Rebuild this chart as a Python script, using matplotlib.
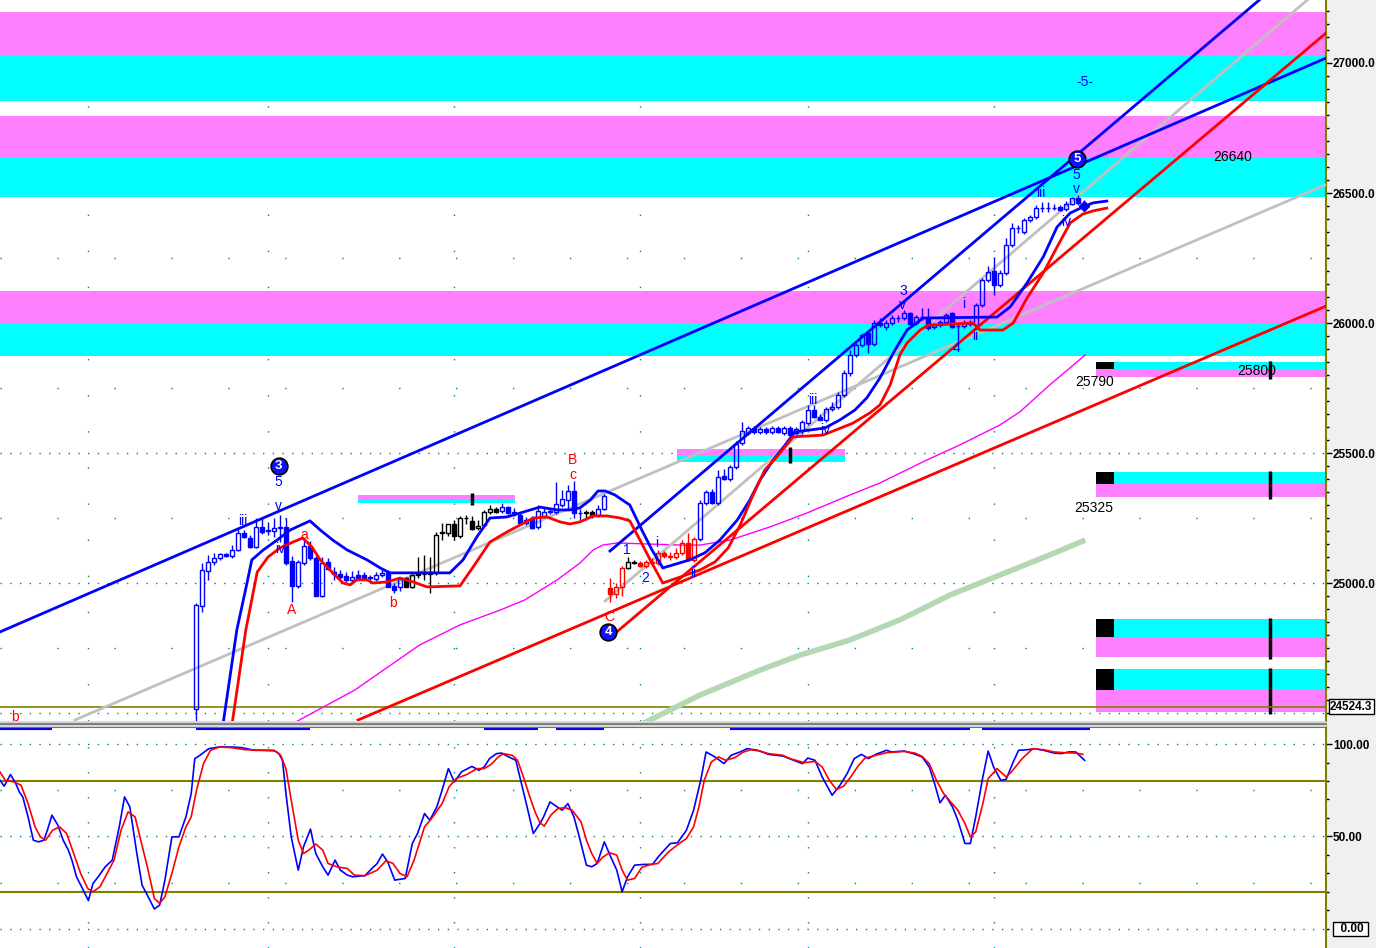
import matplotlib
matplotlib.use("Agg")
import matplotlib.pyplot as plt
import matplotlib.transforms as mtransforms
from matplotlib.patches import Rectangle

plt.rcParams['font.family'] = ['Liberation Sans', 'DejaVu Sans']

# ---------------- data ----------------
first_bar = 32
opens = [24515, 24912, 25046, 25081, 25096, 25112, 25104, 25127, 25192, 25173,
         25139, 25216, 25204, 25200, 25216, 25216, 25085, 24989, 25077, 25142,
         25096, 24950, 25081, 25042, 25035, 25027, 25012, 25031, 25031, 25023,
         25016, 25031, 25042, 24989, 24985, 25019, 24985, 25035, 25035, 25042,
         25039, 25192, 25192, 25227, 25181, 25250, 25239, 25212, 25223, 25273,
         25285, 25277, 25292, 25273, 25262, 25231, 25246, 25216, 25258, 25273,
         25273, 25300, 25319, 25354, 25269, 25269, 25273, 25262, 25285, 24981,
         24958, 24985, 25058, 25081, 25077, 25066, 25081, 25077, 25116, 25104,
         25100, 25116, 25154, 25089, 25169, 25308, 25350, 25308, 25412, 25400,
         25446, 25539, 25577, 25596, 25581, 25592, 25581, 25596, 25577, 25596,
         25577, 25585, 25615, 25665, 25639, 25627, 25669, 25677, 25723, 25808,
         25877, 25916, 25962, 25919, 26000, 25985, 26000, 26019, 26019, 26038,
         26000, 26023, 26019, 25985, 25992, 26004, 26038, 25989, 25989, 26004,
         25992, 26069, 26165, 26200, 26146, 26192, 26300, 26365, 26350, 26396,
         26408, 26442, 26442, 26442, 26446, 26438, 26458, 26481, 26450]
highs = [24923, 25077, 25108, 25116, 25116, 25116, 25146, 25212, 25204, 25185,
         25250, 25250, 25235, 25250, 25262, 25250, 25104, 25089, 25165, 25162,
         25104, 25100, 25096, 25062, 25050, 25042, 25046, 25050, 25042, 25031,
         25042, 25058, 25050, 25000, 25023, 25023, 25035, 25100, 25108, 25100,
         25196, 25231, 25227, 25242, 25258, 25262, 25258, 25242, 25281, 25300,
         25292, 25308, 25296, 25289, 25273, 25254, 25258, 25300, 25289, 25285,
         25389, 25358, 25377, 25392, 25285, 25281, 25281, 25300, 25342, 25019,
         25000, 25066, 25100, 25089, 25085, 25089, 25096, 25127, 25123, 25119,
         25135, 25165, 25192, 25177, 25319, 25358, 25362, 25435, 25439, 25454,
         25546, 25619, 25604, 25604, 25600, 25600, 25604, 25604, 25604, 25604,
         25600, 25627, 25685, 25685, 25650, 25677, 25696, 25735, 25819, 25896,
         25923, 25962, 25973, 26012, 26019, 26012, 26031, 26031, 26050, 26042,
         26031, 26058, 26058, 26000, 26012, 26038, 26042, 26000, 26012, 26012,
         26077, 26173, 26219, 26254, 26204, 26327, 26385, 26377, 26404, 26415,
         26454, 26465, 26465, 26458, 26454, 26469, 26485, 26492, 26473]
lows = [24435, 24889, 25012, 25069, 25089, 25100, 25096, 25123, 25173, 25135,
        25135, 25189, 25185, 25177, 25158, 25069, 24927, 24981, 25069, 25089,
        24950, 24946, 25050, 25012, 25012, 25004, 25004, 25012, 25012, 25012,
        25008, 25023, 24985, 24962, 24969, 24985, 24981, 25019, 25012, 24962,
        25031, 25165, 25181, 25165, 25173, 25227, 25204, 25204, 25216, 25265,
        25269, 25269, 25265, 25258, 25231, 25223, 25208, 25208, 25250, 25265,
        25265, 25292, 25281, 25250, 25235, 25242, 25250, 25254, 25281, 24927,
        24943, 24950, 25054, 25073, 25062, 25058, 25066, 25069, 25096, 25089,
        25092, 25108, 25085, 25081, 25162, 25300, 25304, 25300, 25396, 25392,
        25439, 25531, 25569, 25573, 25573, 25573, 25573, 25577, 25569, 25565,
        25569, 25573, 25608, 25635, 25627, 25619, 25662, 25669, 25716, 25796,
        25869, 25908, 25885, 25912, 25985, 25973, 25992, 26004, 26012, 25992,
        25992, 26012, 25973, 25977, 25985, 25996, 25981, 25908, 25981, 25989,
        25985, 26062, 26158, 26108, 26138, 26185, 26292, 26346, 26342, 26388,
        26400, 26427, 26427, 26435, 26431, 26431, 26454, 26454, 26435]
closes = [24915, 25050, 25081, 25096, 25112, 25104, 25127, 25192, 25177, 25139,
          25216, 25196, 25200, 25212, 25212, 25077, 24989, 25081, 25142, 25096,
          24950, 25077, 25054, 25035, 25023, 25012, 25023, 25019, 25019, 25019,
          25031, 25039, 24985, 24973, 25016, 24985, 25031, 25031, 25035, 25035,
          25185, 25196, 25227, 25181, 25250, 25250, 25208, 25219, 25273, 25285,
          25273, 25292, 25269, 25269, 25231, 25242, 25212, 25277, 25273, 25277,
          25304, 25323, 25354, 25269, 25269, 25273, 25258, 25285, 25335, 24958,
          24985, 25058, 25081, 25077, 25066, 25081, 25077, 25116, 25104, 25100,
          25116, 25154, 25092, 25169, 25308, 25350, 25308, 25408, 25400, 25446,
          25535, 25585, 25596, 25581, 25592, 25581, 25596, 25581, 25596, 25569,
          25592, 25619, 25665, 25639, 25627, 25669, 25677, 25723, 25808, 25877,
          25916, 25954, 25919, 26000, 25992, 26000, 26019, 26019, 26038, 25996,
          26023, 26023, 25981, 25992, 26004, 26031, 25985, 25989, 26000, 25996,
          26069, 26165, 26196, 26146, 26192, 26300, 26365, 26365, 26396, 26408,
          26442, 26442, 26442, 26442, 26435, 26458, 26481, 26462, 26450]
candle_colors = ("bbbbbbbbbbbbbbbbbbbbbbbbbbbbbbbbbbb" "kkkkkkkkkkkkkkkk"
                 "bbbbbbbbbbbbbb" "kk" "bb" "rrr" "kk" "rrrrrrrrrr"
                 "bbbbbbbbbbbbbbbbbbbbbbbbbbbbbbbbbbbbbbbbbbbbbbbbbbbbbbbbbbbbbbbbb")

# moving averages (bar, price)
blue_ma_x = [36.0, 38.8, 40.5, 41.3, 43.2, 45.5, 47.7, 51.0, 52.7, 54.8, 57.2, 60.5, 62.7, 64.3,
             68.2, 74.3, 76.5, 78.8, 81.0, 83.8, 86.0, 89.3, 92.2, 94.3, 96.0, 97.7, 99.0, 100.2,
             101.8, 104.3, 106.3, 108.0, 109.8, 114.3, 116.8, 119.3, 122.2, 124.3, 126.0, 128.2,
             130.2, 131.8, 136.8, 139.3, 141.8, 143.8, 146.0, 148.5, 150.5, 153.2, 165.5, 167.7,
             170.5, 173.2, 175.5, 177.7, 179.8, 181.5, 183.8]
blue_ma_y = [24377, 24819, 25000, 25089, 25127, 25165, 25204, 25239, 25204, 25165, 25127, 25089,
             25058, 25039, 25039, 25039, 25089, 25177, 25250, 25254, 25269, 25292, 25281, 25281,
             25289, 25319, 25354, 25354, 25339, 25300, 25204, 25127, 25058, 25089, 25116, 25165,
             25242, 25319, 25396, 25473, 25531, 25581, 25596, 25627, 25665, 25712, 25789, 25896,
             25973, 26019, 26023, 26062, 26154, 26254, 26369, 26423, 26446, 26462, 26469]
red_ma_x = [37.5, 40.3, 42.2, 44.0, 46.0, 48.2, 49.8, 51.3, 52.7, 54.8, 56.5, 57.7, 58.8, 60.5,
            61.5, 63.8, 66.0, 68.2, 70.5, 76.0, 78.2, 81.0, 83.8, 86.0, 88.2, 90.5, 92.7, 94.3,
            96.0, 98.2, 100.5, 102.7, 104.3, 106.0, 107.7, 109.8, 112.7, 116.0, 118.5, 120.7,
            122.7, 124.7, 126.8, 128.8, 131.5, 136.5, 141.5, 144.3, 146.0, 147.7, 149.3, 150.5,
            152.7, 154.0, 161.5, 162.7, 166.5, 168.2, 170.5, 173.2, 175.5, 177.7, 179.8, 181.5,
            183.8]
red_ma_y = [24377, 24819, 25042, 25100, 25135, 25158, 25173, 25139, 25089, 25039, 25000, 24993,
            25012, 25012, 25000, 25004, 25019, 25004, 24985, 24989, 25062, 25158, 25196, 25223,
            25250, 25254, 25235, 25227, 25235, 25258, 25258, 25250, 25239, 25165, 25089, 25000,
            25023, 25050, 25081, 25135, 25223, 25331, 25435, 25485, 25562, 25569, 25615, 25654,
            25685, 25762, 25877, 25923, 25973, 25992, 26000, 25973, 25973, 26000, 26096, 26192,
            26292, 26385, 26419, 26431, 26442]
magenta_x = [47.7, 58.5, 69.3, 76.0, 82.7, 86.8, 92.2, 96.0, 98.2, 99.8, 102.2, 112.7, 116.0,
             121.0, 127.7, 133.8, 140.2, 146.0, 153.8, 159.3, 166.0, 169.3, 174.3, 180.2]
magenta_y = [24454, 24589, 24762, 24839, 24896, 24935, 25012, 25077, 25127, 25146, 25154, 25146,
             25146, 25165, 25216, 25269, 25331, 25385, 25473, 25531, 25608, 25658, 25762, 25877]
green_x = [106.0, 116.0, 126.0, 132.7, 141.0, 149.3, 157.7, 166.0, 174.3, 180.2]
green_y = [24454, 24569, 24665, 24723, 24781, 24858, 24954, 25031, 25108, 25165]

# trend lines: (x0, y0, x1, y1, color)
trend_lines = [(-0.67, 24812, 220.33, 27019, '#0000ff'),
               (101.0, 25123, 209.2, 27242, '#0000ff'),
               (59.0, 24473, 220.33, 26065, '#ff0000'),
               (101.3, 24796, 220.33, 27115, '#ff0000'),
               (11.8, 24473, 220.2, 26531, '#c0c0c0'),
               (100.2, 24931, 217.2, 27242, '#c0c0c0')]

# horizontal zones (top, mid, bottom): magenta on top, cyan below
band_top = [27195, 26795, 26125]
band_mid = [27025, 26640, 26000]
band_bot = [26855, 26485, 25875]

# small zones on the right: (cyan top, split, magenta bottom)
rbox_top = [25850, 25427, 24862, 24669]
rbox_mid = [25823, 25381, 24792, 24589]
rbox_bot = [25792, 25331, 24715, 24504]
rbox_x0, rbox_x1, rbox_black_x1, rbox_marker_x = 182.0, 220.33, 185.0, 211.0

# mid zones: (x0, x1, magenta top, split, cyan bottom, marker x, marker lo, marker hi)
mbox = [(59.0, 85.2, 25339, 25323, 25306, 78.0, 25300, 25346),
        (112.2, 140.2, 25515, 25488, 25465, 131.0, 25462, 25523)]

last_price = 24524.3

wave_labels = [("5", 45.8, 25389, '#0000ff'), ("v", 45.8, 25295, '#0000ff'),
               ("iii", 39.8, 25239, '#0000ff'), ("iv", 46.0, 25131, '#0000ff'),
               ("A", 48.0, 24896, '#ff0000'), ("a", 50.0, 25185, '#ff0000'),
               ("b", 64.8, 24923, '#ff0000'), ("B", 94.8, 25473, '#ff0000'),
               ("c", 94.8, 25415, '#ff0000'), ("1", 103.8, 25127, '#0000ff'),
               ("2", 106.8, 25019, '#0000ff'), ("C", 100.8, 24869, '#ff0000'),
               ("i", 108.8, 25154, '#0000ff'), ("ii", 114.8, 25039, '#0000ff'),
               ("iii", 134.8, 25704, '#0000ff'), ("iv", 136.8, 25589, '#0000ff'),
               ("3", 149.8, 26123, '#0000ff'), ("v", 149.8, 26069, '#0000ff'),
               ("i", 160.0, 26073, '#0000ff'), ("ii", 161.8, 25950, '#0000ff'),
               ("4", 158.8, 25904, '#0000ff'), ("iii", 172.8, 26500, '#0000ff'),
               ("iv", 177.0, 26389, '#0000ff'), ("5", 178.7, 26569, '#0000ff'),
               ("v", 178.8, 26515, '#0000ff'), ("-5-", 180.2, 26927, '#0000ff'),
               ("b", 1.8, 24485, '#ff0000')]
circles = [("3", 45.8, 25450), ("4", 100.7, 24812), ("5", 178.8, 26631)]
price_labels = [("26640", 204.7, 26638), ("25790", 181.8, 25773),
                ("25800", 208.7, 25815), ("25325", 181.7, 25289)]

# stochastic
stoch_k_x = [-0.67, 0.03, 1.08, 1.96, 2.55, 3.13, 4.01, 4.89, 5.76, 6.64, 7.23, 7.99, 8.98, 9.86,
             10.73, 11.32, 12.08, 13.07, 14.07, 14.83, 15.70, 16.87, 18.04, 19.21, 20.09, 20.97,
             22.14, 23.01, 23.89, 25.06, 25.94, 26.82, 27.98, 29.15, 30.32, 31.20, 31.79, 32.66,
             34.13, 35.88, 37.93, 39.68, 41.73, 44.94, 45.82, 46.41, 46.99, 47.87, 49.04, 49.92,
             51.08, 51.96, 53.13, 54.01, 55.18, 56.06, 57.22, 58.10, 60.15, 61.32, 62.20, 63.07,
             63.95, 65.12, 66.87, 68.05, 68.92, 70.09, 70.97, 72.14, 73.01, 74.07, 75.06, 76.23,
             77.98, 79.16, 80.03, 80.91, 82.08, 82.96, 84.12, 85.30, 86.17, 87.05, 88.22,
             89.33, 89.93, 91.0, 92.01, 93.02, 93.98, 94.99, 95.88, 97.07, 97.96, 98.86, 100.05,
             101.12, 102.13, 103.02, 103.92, 105.11, 106.6, 108.08, 109.27, 111.06, 112.25, 113.74,
             114.93, 116.12, 117.01, 118.5, 119.99, 121.18, 122.67, 123.85, 125.64, 127.43, 129.81,
             131.6, 133.08, 133.97, 135.17, 136.36, 138.02, 139.33, 140.52, 141.71, 142.9, 144.1,
             145.29, 147.07, 147.96, 150.05, 151.53, 153.02, 154.21, 155.1, 156.0, 156.89, 158.08,
             158.97, 160.16, 161.06, 161.95, 163.14, 164.03, 164.93, 166.12, 167.01, 168.2, 169.1,
             170.58, 171.77, 173.26, 175.04, 176.24, 177.43, 178.62, 179.21, 180.1]
stoch_k = [80.4, 77.2, 83.5, 78.6, 74.1, 71.4, 60.6, 48.0, 47.1, 48.0, 53.4, 61.5, 56.1, 48.0,
           42.6, 37.2, 28.2, 21.9, 15.3, 24.6, 28.2, 33.6, 37.2, 55.2, 71.4, 66.0, 40.8, 23.7,
           18.3, 10.8, 12.9, 26.4, 49.8, 49.8, 60.6, 73.2, 92.1, 93.9, 97.5, 98.4, 98.4, 98.0,
           96.6, 96.6, 94.8, 91.2, 73.2, 49.8, 31.8, 44.4, 54.0, 40.8, 33.6, 29.1, 37.2, 31.8,
           29.1, 28.2, 28.8, 32.7, 35.4, 40.5, 36.3, 26.4, 27.3, 46.2, 51.6, 62.4, 58.8, 66.0,
           75.0, 86.7, 79.5, 84.9, 87.9, 85.8, 87.6, 92.1, 94.8, 95.1, 93.0, 91.2, 79.5, 67.8, 51.6,
           57.0, 60.6, 68.7, 66.4, 64.2, 67.8, 60.6, 49.8, 34.5, 33.6, 35.4, 47.1, 39.0, 31.8,
           20.1, 28.2, 34.5, 34.9, 34.9, 39.9, 46.2, 46.6, 53.4, 64.2, 80.4, 95.7, 93.0, 89.4,
           93.9, 95.7, 97.5, 96.6, 94.4, 93.5, 91.2, 89.4, 92.4, 91.2, 82.2, 72.3, 77.7, 84.0,
           92.1, 94.4, 92.1, 94.4, 96.6, 95.7, 96.2, 94.8, 93.0, 87.6, 78.6, 68.2, 72.3, 66.0,
           58.8, 46.2, 46.2, 60.6, 82.2, 96.2, 87.6, 80.4, 80.8, 90.3, 96.6, 96.9, 97.5, 96.6,
           95.1, 94.8, 95.7, 95.7, 93.9, 91.2]
stoch_d_x = [-0.67, 0.21, 1.67, 2.84, 4.01, 5.18, 6.06, 6.93, 8.10, 9.27, 10.44, 11.61, 12.78,
             13.95, 14.83, 16.0, 17.17, 18.34, 19.51, 20.68, 21.85, 22.72, 23.89, 25.06, 25.94,
             26.82, 27.98, 29.15, 30.32, 31.20, 32.08, 33.25, 34.42, 35.88, 37.93, 40.27, 43.19,
             45.24, 46.11, 46.99, 47.87, 49.04, 49.92, 50.79, 51.96, 53.13, 54.01, 55.47, 57.22,
             58.39, 60.15, 62.20, 63.66, 64.83, 66.0, 67.17, 68.34, 70.09, 71.26, 73.01, 74.18,
             75.35, 77.11, 78.86, 80.03, 81.2, 82.37, 83.25, 84.71, 85.59, 86.76, 87.63, 88.51,
             89.33, 90.04, 91.12, 92.31, 93.5, 94.69, 96.18, 97.07, 97.96, 98.86, 99.75, 100.94,
             102.13, 103.02, 103.92, 105.11, 106.3, 107.79, 108.97, 110.76, 112.54, 113.74, 114.93,
             115.82, 116.71, 117.9, 119.09, 120.28, 121.77, 123.26, 124.45, 125.94, 127.43, 129.81,
             131.0, 133.38, 135.17, 136.36, 137.55, 138.74, 139.93, 141.12, 142.31, 143.5, 145.29,
             147.07, 150.05, 151.83, 153.02, 154.21, 155.4, 156.6, 157.79, 158.97, 160.16, 161.06,
             161.95, 163.14, 164.03, 165.52, 167.01, 167.9, 169.69, 171.47, 173.26, 175.04, 176.83,
             178.62, 179.81]
stoch_d = [84.9, 80.4, 79.5, 77.7, 67.8, 55.2, 49.8, 48.0, 53.4, 55.2, 51.6, 40.8, 30.0, 21.9,
           20.1, 22.8, 30.0, 37.2, 53.4, 63.3, 60.6, 48.9, 33.6, 16.5, 13.8, 17.4, 30.0, 44.4,
           55.2, 60.6, 75.0, 89.4, 96.6, 98.4, 98.0, 96.9, 96.6, 96.2, 93.9, 86.7, 69.6, 48.0,
           40.8, 42.6, 45.9, 42.6, 35.4, 33.6, 32.7, 29.1, 28.8, 31.8, 36.9, 35.4, 30.0, 28.2,
           37.2, 55.2, 59.7, 67.8, 76.8, 81.3, 83.5, 86.7, 86.7, 89.0, 93.0, 94.8, 93.9, 91.2,
           80.4, 71.4, 63.3,
           57.4, 55.6, 61.5, 65.1, 65.6, 64.2, 57.9, 48.0, 40.8, 35.4, 38.7, 41.2, 39.9, 31.8,
           26.4, 27.3, 33.3, 34.9, 35.4, 41.7, 46.2, 48.9, 55.2, 66.0, 80.4, 90.3, 93.0, 91.2,
           92.6, 95.7, 96.9, 96.2, 94.8, 93.9, 92.1, 89.9, 90.6, 87.6, 80.4, 75.4, 77.2, 82.2,
           87.9, 92.4, 93.9, 95.3, 96.0, 95.1, 93.3, 89.4, 80.4, 73.2, 68.7, 64.2, 57.0, 49.8,
           52.5, 67.8, 81.3, 86.7, 82.2, 84.9, 92.1, 97.5, 96.9, 95.7, 95.3, 95.1, 94.4]
signal_x0 = [-0.67, 32, 80, 92, 121, 163]
signal_x1 = [8, 51, 89, 100, 161, 181]
grid_bars = [14, 44, 75, 106, 134, 165]

# ---------------- figure ----------------
W, H = 1376, 948
fig = plt.figure(figsize=(W / 100, H / 100), dpi=100, facecolor='#f0f0f0')
ax = fig.add_axes([0, 1 - 721 / H, 1326 / W, 721 / H], facecolor='white')
ax2 = fig.add_axes([0, 0, 1326 / W, 221 / H], facecolor='white')

XL = (-0.667, 220.333)
ax.set_xlim(*XL)
ax.set_ylim(24469.3, 27242.3)
ax2.set_xlim(*XL)
ax2.set_ylim(-10.3, 109.2)

teal = '#008080'
olive = '#808000'

# grid
for g in range(24500, 27001, 250):
    dense = (g % 500 == 0)
    ax.axhline(g, color=teal, lw=1, ls=(0, (1, 6)) if dense else (0, (1, 40)), zorder=0.5)
for gx in grid_bars:
    ax.axvline(gx, color=teal, lw=1, ls=(0, (1, 25)), zorder=0.5)
    ax2.axvline(gx, color=teal, lw=1, ls=(0, (1, 17)), zorder=0.5)

# bands
for t, m, b in zip(band_top, band_mid, band_bot):
    ax.axhspan(m, t, color='#ff80ff', lw=0, zorder=1)
    ax.axhspan(b, m, color='#00ffff', lw=0, zorder=1)

# right boxes
for t, m, b in zip(rbox_top, rbox_mid, rbox_bot):
    ax.add_patch(Rectangle((rbox_x0, m), rbox_x1 - rbox_x0, t - m, fc='#00ffff', lw=0, zorder=2))
    ax.add_patch(Rectangle((rbox_x0, b), rbox_x1 - rbox_x0, m - b, fc='#ff80ff', lw=0, zorder=2))
    ax.add_patch(Rectangle((rbox_x0, m), rbox_black_x1 - rbox_x0, t - m, fc='black', lw=0, zorder=2.1))
    ax.vlines(rbox_marker_x, b - 8, t + 3, color='black', lw=2.5, zorder=2.2)

for x0, x1, t, m, b, mx, lo, hi in mbox:
    ax.add_patch(Rectangle((x0, m), x1 - x0, t - m, fc='#ff80ff', lw=0, zorder=2))
    ax.add_patch(Rectangle((x0, b), x1 - x0, m - b, fc='#00ffff', lw=0, zorder=2))
    ax.vlines(mx, lo, hi, color='black', lw=2.5, zorder=2.2)

ax.axhline(last_price, color=olive, lw=1.2, zorder=2.5)

# smooth/indicator lines
ax.plot(green_x, green_y, color='#b4d8b4', lw=4, solid_capstyle='butt', zorder=3)
ax.plot(magenta_x, magenta_y, color='#ff00ff', lw=1, zorder=3)
for x0, y0, x1, y1, c in trend_lines:
    ax.plot([x0, x1], [y0, y1], color=c, lw=2, zorder=3.5 if c == '#c0c0c0' else 5)

# candles
cmap = {'b': '#0000ff', 'k': '#000000', 'r': '#ff0000'}
for n in range(len(opens)):
    x = first_bar + n
    o, h, l, c = opens[n], highs[n], lows[n], closes[n]
    col = cmap[candle_colors[n]]
    lo_b, hi_b = min(o, c), max(o, c)
    ax.vlines(x, l, lo_b, color=col, lw=1, zorder=4.5)
    ax.vlines(x, hi_b, h, color=col, lw=1, zorder=4.5)
    filled = c < o
    ax.add_patch(Rectangle((x - 0.34, lo_b), 0.68, max(hi_b - lo_b, 0.1),
                           fc=col if filled else 'none', ec=col, lw=1, zorder=4.6))
ax.plot([first_bar + len(opens) - 1], [closes[-1]], marker='D', ms=5, color='#0000ff', zorder=4.7)

ax.plot(blue_ma_x, blue_ma_y, color='#0000ff', lw=2, zorder=5)
ax.plot(red_ma_x, red_ma_y, color='#ff0000', lw=2, zorder=5)

# labels
for txt, x, y, c in wave_labels:
    ax.text(x, y, txt, color=c, fontsize=10, ha='center', va='center', zorder=6)
for txt, x, y in circles:
    ax.plot([x], [y], marker='o', ms=12, mfc='#1010ff', mec='black', mew=1.2, zorder=6)
    ax.text(x, y, txt, color='white', fontsize=9.5, fontweight='bold', ha='center',
            va='center', zorder=6.1)
for txt, x, y in price_labels:
    ax.text(x, y, txt, color='black', fontsize=10, ha='center', va='center', zorder=6)

# axes styling
for a in (ax, ax2):
    for s in ('left', 'bottom', 'top'):
        a.spines[s].set_visible(False)
    a.spines['right'].set_color(olive)
    a.spines['right'].set_linewidth(1.5)
    a.set_xticks([])
    a.yaxis.tick_right()
ax2.spines['top'].set_visible(True)
ax2.spines['top'].set_color(olive)
ax2.spines['top'].set_linewidth(1.5)

main_ticks = [25000, 25500, 26000, 26500, 27000]
ax.set_yticks(main_ticks)
ax.set_yticklabels([f"{v:.1f}" for v in main_ticks])
ax.set_yticks(list(range(24500, 27201, 50)), minor=True)
ax.tick_params(axis='y', which='major', direction='out', length=4, width=1, pad=1,
               labelsize=8.5, colors='black')
ax.tick_params(axis='y', which='minor', direction='out', length=2, width=1, colors='black')
for lbl in ax.get_yticklabels():
    lbl.set_fontweight('bold')

ax2.set_yticks([50, 100])
ax2.set_yticklabels(["50.00", "100.00"])
ax2.set_yticks(list(range(0, 101, 10)), minor=True)
ax2.tick_params(axis='y', which='major', direction='out', length=4, width=1, pad=1,
                labelsize=8.5, colors='black')
ax2.tick_params(axis='y', which='minor', direction='out', length=2, width=1, colors='black')
for lbl in ax2.get_yticklabels():
    lbl.set_fontweight('bold')

tr = mtransforms.blended_transform_factory(ax.transAxes, ax.transData)
ax.text(1.003, last_price, "24524.3", transform=tr, fontsize=8.5, fontweight='bold', ha='left',
        va='center', clip_on=False, zorder=10,
        bbox=dict(boxstyle='square,pad=0.12', fc='white', ec='black', lw=1))
tr2 = mtransforms.blended_transform_factory(ax2.transAxes, ax2.transData)
ax2.text(1.006, 0, "  0.00 ", transform=tr2, fontsize=8.5, fontweight='bold', ha='left',
         va='center', clip_on=False, zorder=10,
         bbox=dict(boxstyle='square,pad=0.12', fc='white', ec='black', lw=1))

# stochastic panel
for lvl in (100, 50, 0):
    ax2.axhline(lvl, color=teal, lw=1, ls=(0, (1, 6)), zorder=0.5)
for lvl in (75, 25):
    ax2.axhline(lvl, color=teal, lw=1, ls=(0, (1, 40)), zorder=0.5)
for lvl in (80, 20):
    ax2.axhline(lvl, color=olive, lw=1.5, zorder=1)
ax2.hlines([108.4] * len(signal_x0), signal_x0, signal_x1, color='#0000ff', lw=3, zorder=2)
ax2.plot(stoch_k_x, stoch_k, color='#0000ff', lw=1.2, zorder=3)
ax2.plot(stoch_d_x, stoch_d, color='#ff0000', lw=1.2, zorder=3.5)

# separator between panels
fig.patches.append(Rectangle((0, 1 - 727 / H), 1326 / W, 6 / H, transform=fig.transFigure,
                             fc='#d8d8d8', ec='none', zorder=0))
fig.lines.append(plt.Line2D([0, 1326 / W], [1 - 723.5 / H] * 2, transform=fig.transFigure,
                            color='#808080', lw=1.5))

fig.savefig("out.png", dpi=100, facecolor=fig.get_facecolor())
